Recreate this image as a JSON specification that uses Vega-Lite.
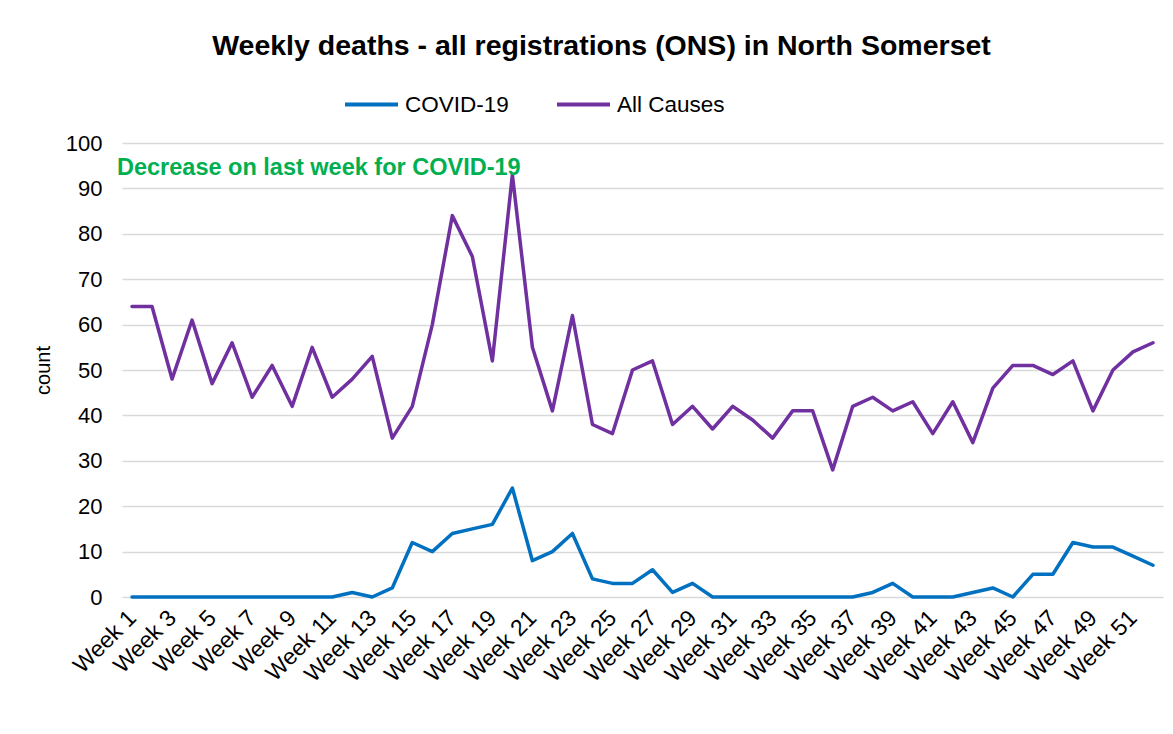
{
  "$schema": "https://vega.github.io/schema/vega-lite/v6.json",
  "width": 1041,
  "height": 454,
  "autosize": {"type": "none"},
  "padding": {"left": 122, "top": 143, "right": 10, "bottom": 137},
  "background": "white",
  "config": {
    "font": "Liberation Sans",
    "view": {"stroke": null}
  },
  "title": {
    "text": "Weekly deaths - all registrations (ONS) in North Somerset",
    "fontSize": 28.5,
    "fontWeight": "bold",
    "color": "#000000",
    "anchor": "middle",
    "offset": 20,
    "dx": -41,
    "dy": 4
  },
  "datasets": {
    "deaths": [
      {"week":"Week 1","series":"COVID-19","count":0},{"week":"Week 1","series":"All Causes","count":64},
      {"week":"Week 2","series":"COVID-19","count":0},{"week":"Week 2","series":"All Causes","count":64},
      {"week":"Week 3","series":"COVID-19","count":0},{"week":"Week 3","series":"All Causes","count":48},
      {"week":"Week 4","series":"COVID-19","count":0},{"week":"Week 4","series":"All Causes","count":61},
      {"week":"Week 5","series":"COVID-19","count":0},{"week":"Week 5","series":"All Causes","count":47},
      {"week":"Week 6","series":"COVID-19","count":0},{"week":"Week 6","series":"All Causes","count":56},
      {"week":"Week 7","series":"COVID-19","count":0},{"week":"Week 7","series":"All Causes","count":44},
      {"week":"Week 8","series":"COVID-19","count":0},{"week":"Week 8","series":"All Causes","count":51},
      {"week":"Week 9","series":"COVID-19","count":0},{"week":"Week 9","series":"All Causes","count":42},
      {"week":"Week 10","series":"COVID-19","count":0},{"week":"Week 10","series":"All Causes","count":55},
      {"week":"Week 11","series":"COVID-19","count":0},{"week":"Week 11","series":"All Causes","count":44},
      {"week":"Week 12","series":"COVID-19","count":1},{"week":"Week 12","series":"All Causes","count":48},
      {"week":"Week 13","series":"COVID-19","count":0},{"week":"Week 13","series":"All Causes","count":53},
      {"week":"Week 14","series":"COVID-19","count":2},{"week":"Week 14","series":"All Causes","count":35},
      {"week":"Week 15","series":"COVID-19","count":12},{"week":"Week 15","series":"All Causes","count":42},
      {"week":"Week 16","series":"COVID-19","count":10},{"week":"Week 16","series":"All Causes","count":60},
      {"week":"Week 17","series":"COVID-19","count":14},{"week":"Week 17","series":"All Causes","count":84},
      {"week":"Week 18","series":"COVID-19","count":15},{"week":"Week 18","series":"All Causes","count":75},
      {"week":"Week 19","series":"COVID-19","count":16},{"week":"Week 19","series":"All Causes","count":52},
      {"week":"Week 20","series":"COVID-19","count":24},{"week":"Week 20","series":"All Causes","count":93},
      {"week":"Week 21","series":"COVID-19","count":8},{"week":"Week 21","series":"All Causes","count":55},
      {"week":"Week 22","series":"COVID-19","count":10},{"week":"Week 22","series":"All Causes","count":41},
      {"week":"Week 23","series":"COVID-19","count":14},{"week":"Week 23","series":"All Causes","count":62},
      {"week":"Week 24","series":"COVID-19","count":4},{"week":"Week 24","series":"All Causes","count":38},
      {"week":"Week 25","series":"COVID-19","count":3},{"week":"Week 25","series":"All Causes","count":36},
      {"week":"Week 26","series":"COVID-19","count":3},{"week":"Week 26","series":"All Causes","count":50},
      {"week":"Week 27","series":"COVID-19","count":6},{"week":"Week 27","series":"All Causes","count":52},
      {"week":"Week 28","series":"COVID-19","count":1},{"week":"Week 28","series":"All Causes","count":38},
      {"week":"Week 29","series":"COVID-19","count":3},{"week":"Week 29","series":"All Causes","count":42},
      {"week":"Week 30","series":"COVID-19","count":0},{"week":"Week 30","series":"All Causes","count":37},
      {"week":"Week 31","series":"COVID-19","count":0},{"week":"Week 31","series":"All Causes","count":42},
      {"week":"Week 32","series":"COVID-19","count":0},{"week":"Week 32","series":"All Causes","count":39},
      {"week":"Week 33","series":"COVID-19","count":0},{"week":"Week 33","series":"All Causes","count":35},
      {"week":"Week 34","series":"COVID-19","count":0},{"week":"Week 34","series":"All Causes","count":41},
      {"week":"Week 35","series":"COVID-19","count":0},{"week":"Week 35","series":"All Causes","count":41},
      {"week":"Week 36","series":"COVID-19","count":0},{"week":"Week 36","series":"All Causes","count":28},
      {"week":"Week 37","series":"COVID-19","count":0},{"week":"Week 37","series":"All Causes","count":42},
      {"week":"Week 38","series":"COVID-19","count":1},{"week":"Week 38","series":"All Causes","count":44},
      {"week":"Week 39","series":"COVID-19","count":3},{"week":"Week 39","series":"All Causes","count":41},
      {"week":"Week 40","series":"COVID-19","count":0},{"week":"Week 40","series":"All Causes","count":43},
      {"week":"Week 41","series":"COVID-19","count":0},{"week":"Week 41","series":"All Causes","count":36},
      {"week":"Week 42","series":"COVID-19","count":0},{"week":"Week 42","series":"All Causes","count":43},
      {"week":"Week 43","series":"COVID-19","count":1},{"week":"Week 43","series":"All Causes","count":34},
      {"week":"Week 44","series":"COVID-19","count":2},{"week":"Week 44","series":"All Causes","count":46},
      {"week":"Week 45","series":"COVID-19","count":0},{"week":"Week 45","series":"All Causes","count":51},
      {"week":"Week 46","series":"COVID-19","count":5},{"week":"Week 46","series":"All Causes","count":51},
      {"week":"Week 47","series":"COVID-19","count":5},{"week":"Week 47","series":"All Causes","count":49},
      {"week":"Week 48","series":"COVID-19","count":12},{"week":"Week 48","series":"All Causes","count":52},
      {"week":"Week 49","series":"COVID-19","count":11},{"week":"Week 49","series":"All Causes","count":41},
      {"week":"Week 50","series":"COVID-19","count":11},{"week":"Week 50","series":"All Causes","count":50},
      {"week":"Week 51","series":"COVID-19","count":9},{"week":"Week 51","series":"All Causes","count":54},
      {"week":"Week 52","series":"COVID-19","count":7},{"week":"Week 52","series":"All Causes","count":56}
    ],
    "note": [
      {"week":"Week 1","count":94.5,"label":"Decrease on last week for COVID-19"}
    ]
  },
  "layer": [
    {
      "data": {"name": "deaths"},
      "mark": {"type": "line", "strokeWidth": 3.5, "strokeJoin": "round", "strokeCap": "round"},
      "encoding": {
        "x": {
          "field": "week",
          "type": "ordinal",
          "sort": null,
          "scale": {"type": "point", "padding": 0.5},
          "axis": {
            "title": null,
            "values": ["Week 1","Week 3","Week 5","Week 7","Week 9","Week 11","Week 13","Week 15","Week 17","Week 19","Week 21","Week 23","Week 25","Week 27","Week 29","Week 31","Week 33","Week 35","Week 37","Week 39","Week 41","Week 43","Week 45","Week 47","Week 49","Week 51"],
            "labelAngle": -45,
            "labelAlign": "right",
            "labelBaseline": "middle",
            "labelFontSize": 23,
            "labelColor": "#000000",
            "labelPadding": 17,
            "ticks": false,
            "domain": false,
            "grid": false
          }
        },
        "y": {
          "field": "count",
          "type": "quantitative",
          "scale": {"domain": [0, 100]},
          "axis": {
            "title": "count",
            "titleFontSize": 20,
            "titleFontWeight": "normal",
            "titleColor": "#000000",
            "titlePadding": 12,
            "values": [0,10,20,30,40,50,60,70,80,90,100],
            "labelFontSize": 22,
            "labelColor": "#000000",
            "labelPadding": 20,
            "ticks": false,
            "domain": false,
            "grid": true,
            "gridColor": "#d9d9d9",
            "gridWidth": 1.5
          }
        },
        "color": {
          "field": "series",
          "type": "nominal",
          "scale": {"domain": ["COVID-19", "All Causes"], "range": ["#0070C0", "#7030A0"]},
          "legend": {
            "title": null,
            "orient": "none",
            "direction": "horizontal",
            "legendX": 221,
            "legendY": -67,
            "symbolType": "stroke",
            "symbolSize": 2809,
            "symbolStrokeWidth": 4,
            "labelFontSize": 22.5,
            "labelColor": "#000000",
            "labelOffset": 5,
            "columnPadding": 40
          }
        }
      }
    },
    {
      "data": {"name": "note"},
      "mark": {"type": "text", "align": "left", "baseline": "middle", "dx": -15, "fontSize": 23.5, "fontWeight": "bold", "color": "#00B050"},
      "encoding": {
        "x": {"field": "week", "type": "ordinal", "sort": null},
        "y": {"field": "count", "type": "quantitative"},
        "text": {"field": "label"}
      }
    }
  ]
}
